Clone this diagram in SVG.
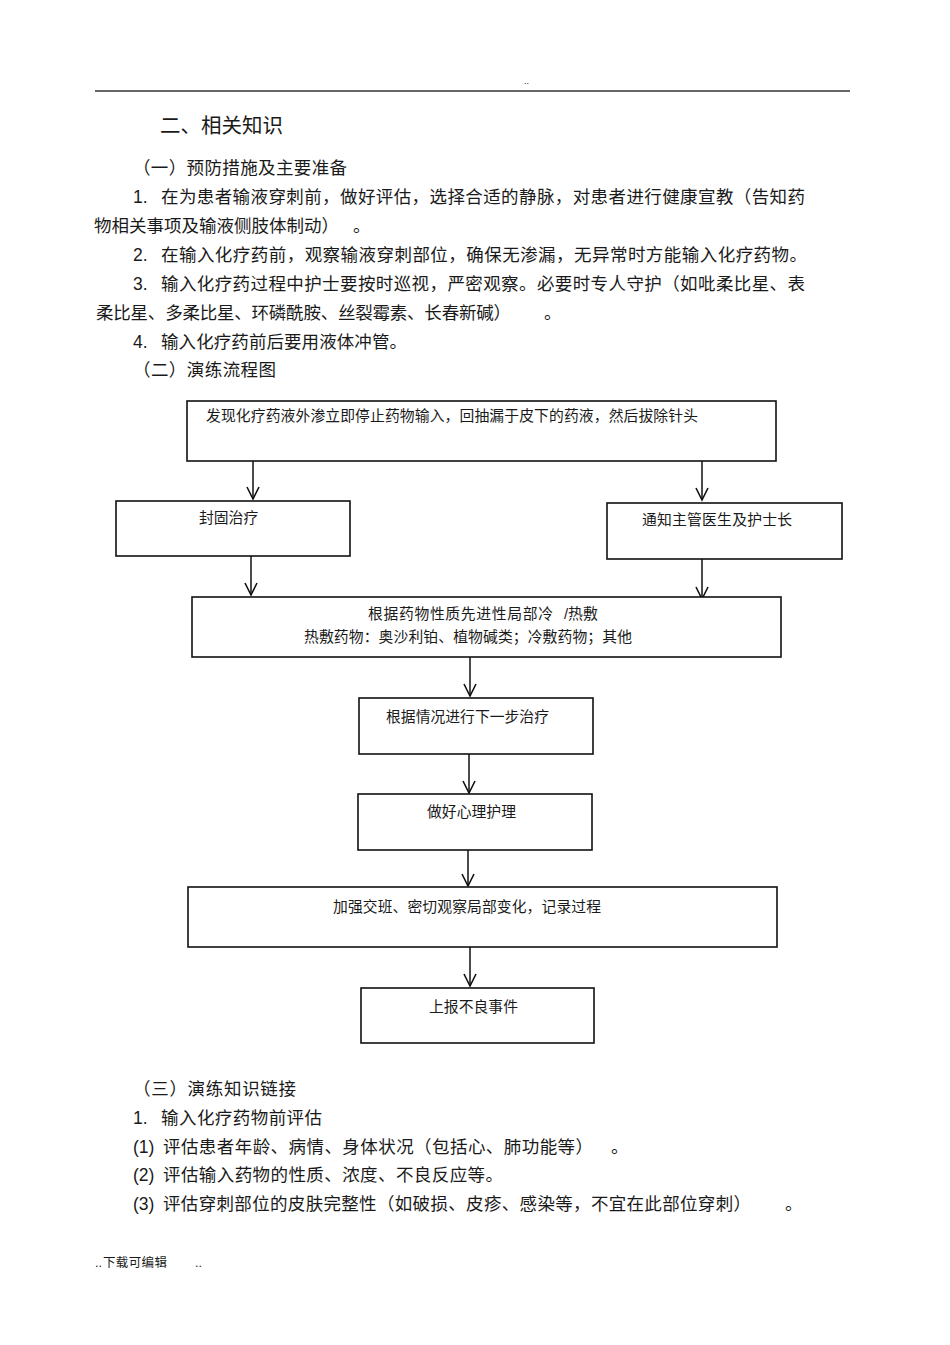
<svg xmlns="http://www.w3.org/2000/svg" width="950" height="1345" viewBox="0 0 950 1345">
<style>
text{font-family:"Liberation Sans","Noto Sans CJK SC",sans-serif;fill:#1a1a1a;}
.b{font-size:17.5px;}
.t{font-size:20.5px;}
.n{font-size:14.8px;}
.s{font-size:12.5px;}
.box{fill:#fff;stroke:#111;stroke-width:1.6;}
.ln{stroke:#111;stroke-width:1.5;fill:none;}
</style>
<defs>
<marker id="arr" markerUnits="userSpaceOnUse" viewBox="-14 -8 16 16" refX="0" refY="0" markerWidth="16" markerHeight="16" orient="auto">
<path d="M-12,-6 L0,0 L-12,6" fill="none" stroke="#111" stroke-width="1.6"/>
</marker>
</defs>
<rect width="950" height="1345" fill="#fff"/>
<g id="header">
<line x1="95" y1="91" x2="850" y2="91" stroke="#333" stroke-width="1.3"/>
<text x="524" y="84" style="font-size:9px">..</text>
</g>
<g id="intro">
<text class="t" x="160" y="133">二、相关知识</text>
<text class="b" x="133" y="174" textLength="214">（一）预防措施及主要准备</text>
<text class="b" x="133" y="203">1.</text>
<text class="b" x="161" y="203" textLength="644">在为患者输液穿刺前，做好评估，选择合适的静脉，对患者进行健康宣教（告知药</text>
<text class="b" x="94" y="232" textLength="245">物相关事项及输液侧肢体制动）</text>
<text class="b" x="353" y="232">。</text>
<text class="b" x="133" y="261">2.</text>
<text class="b" x="161" y="261" textLength="646">在输入化疗药前，观察输液穿刺部位，确保无渗漏，无异常时方能输入化疗药物。</text>
<text class="b" x="133" y="290">3.</text>
<text class="b" x="161" y="290" textLength="644">输入化疗药过程中护士要按时巡视，严密观察。必要时专人守护（如吡柔比星、表</text>
<text class="b" x="96" y="319" textLength="415">柔比星、多柔比星、环磷酰胺、丝裂霉素、长春新碱）</text>
<text class="b" x="544" y="319">。</text>
<text class="b" x="133" y="348">4.</text>
<text class="b" x="161" y="348" textLength="246">输入化疗药前后要用液体冲管。</text>
<text class="b" x="133" y="376" textLength="143">（二）演练流程图</text>
</g>
<g id="connectors">
<line class="ln" x1="253" y1="461" x2="253" y2="499" marker-end="url(#arr)"/>
<line class="ln" x1="702" y1="461" x2="702" y2="500" marker-end="url(#arr)"/>
<line class="ln" x1="251" y1="556" x2="251" y2="595" marker-end="url(#arr)"/>
<line class="ln" x1="702" y1="559" x2="702" y2="599" marker-end="url(#arr)"/>
<line class="ln" x1="470" y1="657" x2="470" y2="696" marker-end="url(#arr)"/>
<line class="ln" x1="469" y1="754" x2="469" y2="793" marker-end="url(#arr)"/>
<line class="ln" x1="468" y1="850" x2="468" y2="886" marker-end="url(#arr)"/>
<line class="ln" x1="470" y1="947" x2="470" y2="986" marker-end="url(#arr)"/>
</g>
<g id="n1">
<rect class="box" x="187" y="401" width="589" height="60"/>
<text class="n" x="206" y="421" textLength="492">发现化疗药液外渗立即停止药物输入，回抽漏于皮下的药液，然后拔除针头</text>
</g>
<g id="n2">
<rect class="box" x="116" y="501" width="234" height="55"/>
<text class="n" x="199" y="523">封固治疗</text>
</g>
<g id="n3">
<rect class="box" x="607" y="503" width="235" height="56"/>
<text class="n" x="642" y="525" textLength="150">通知主管医生及护士长</text>
</g>
<g id="n4">
<rect class="box" x="192" y="597" width="589" height="60"/>
<text class="n" x="368" y="619" textLength="185">根据药物性质先进性局部冷</text>
<text class="n" x="564" y="619">/热敷</text>
<text class="n" x="304" y="642" textLength="328">热敷药物：奥沙利铂、植物碱类；冷敷药物；其他</text>
</g>
<g id="n5">
<rect class="box" x="359" y="698" width="234" height="56"/>
<text class="n" x="386" y="722" textLength="163">根据情况进行下一步治疗</text>
</g>
<g id="n6">
<rect class="box" x="358" y="794" width="234" height="56"/>
<text class="n" x="427" y="817" textLength="89">做好心理护理</text>
</g>
<g id="n7">
<rect class="box" x="188" y="887" width="589" height="60"/>
<text class="n" x="333" y="912" textLength="268">加强交班、密切观察局部变化，记录过程</text>
</g>
<g id="n8">
<rect class="box" x="361" y="988" width="233" height="55"/>
<text class="n" x="429" y="1012" textLength="89">上报不良事件</text>
</g>
<g id="links">
<text class="b" x="133" y="1095" textLength="163">（三）演练知识链接</text>
<text class="b" x="133" y="1124">1.</text>
<text class="b" x="161" y="1124" textLength="161">输入化疗药物前评估</text>
<text class="b" x="133" y="1153">(1)</text>
<text class="b" x="163" y="1153" textLength="430">评估患者年龄、病情、身体状况（包括心、肺功能等）</text>
<text class="b" x="611" y="1153">。</text>
<text class="b" x="133" y="1181">(2)</text>
<text class="b" x="163" y="1181" textLength="340">评估输入药物的性质、浓度、不良反应等。</text>
<text class="b" x="133" y="1210">(3)</text>
<text class="b" x="163" y="1210" textLength="588">评估穿刺部位的皮肤完整性（如破损、皮疹、感染等，不宜在此部位穿刺）</text>
<text class="b" x="785" y="1210">。</text>
</g>
<g id="footer">
<text class="s" x="95" y="1267">..</text>
<text class="s" x="103" y="1267" textLength="64">下载可编辑</text>
<text class="s" x="195" y="1267">..</text>
</g>
</svg>
